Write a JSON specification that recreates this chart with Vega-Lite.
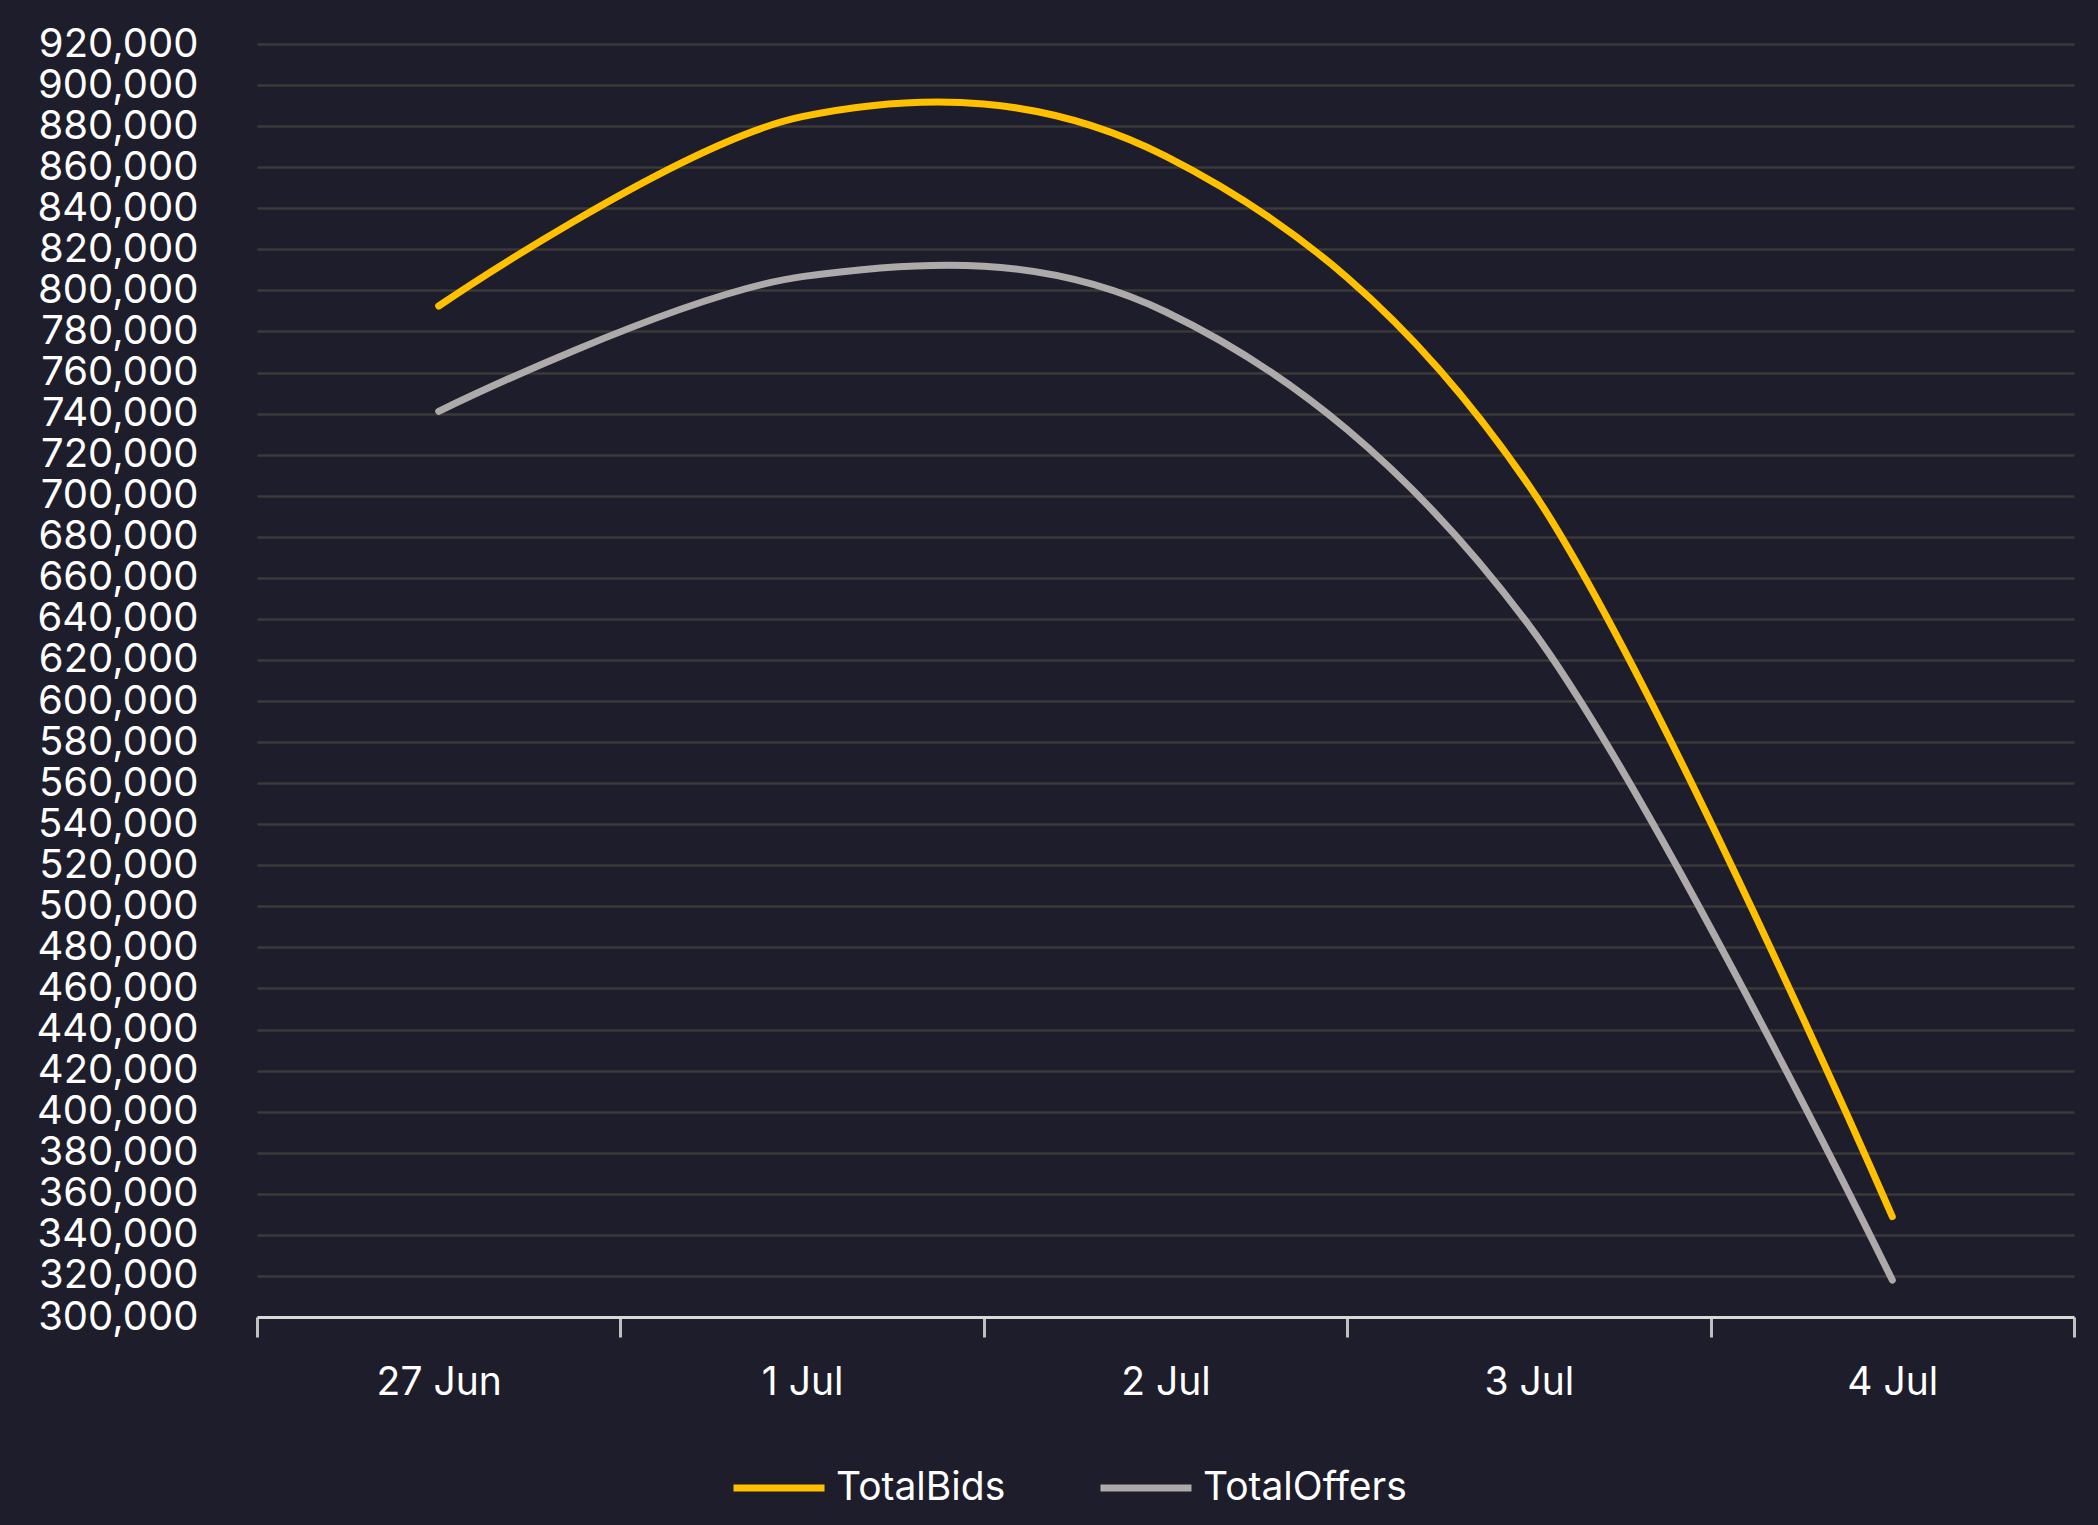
{
  "$schema": "https://vega.github.io/schema/vega-lite/v6.json",
  "width": 1817,
  "height": 1273,
  "autosize": {"type": "none"},
  "padding": {"left": 257, "top": 44, "right": 24, "bottom": 208},
  "background": "#1e1d2b",
  "config": {"view": {"stroke": null}, "font": "Inter"},
  "data": {
    "values": [
      {"date": "27 Jun", "series": "TotalBids", "value": 792400},
      {"date": "1 Jul", "series": "TotalBids", "value": 884600},
      {"date": "2 Jul", "series": "TotalBids", "value": 865400},
      {"date": "3 Jul", "series": "TotalBids", "value": 705000},
      {"date": "4 Jul", "series": "TotalBids", "value": 348900},
      {"date": "27 Jun", "series": "TotalOffers", "value": 741100},
      {"date": "1 Jul", "series": "TotalOffers", "value": 806700},
      {"date": "2 Jul", "series": "TotalOffers", "value": 789600},
      {"date": "3 Jul", "series": "TotalOffers", "value": 637000},
      {"date": "4 Jul", "series": "TotalOffers", "value": 318000}
    ]
  },
  "mark": {"type": "line", "interpolate": "cardinal", "strokeWidth": 7, "strokeCap": "round"},
  "encoding": {
    "x": {
      "field": "date",
      "type": "ordinal",
      "sort": ["27 Jun", "1 Jul", "2 Jul", "3 Jul", "4 Jul"],
      "scale": {"type": "band", "paddingInner": 0, "paddingOuter": 0},
      "bandPosition": 0.5,
      "axis": {
        "title": null,
        "labelAngle": 0,
        "tickBand": "extent",
        "grid": false,
        "domainColor": "#d9d9d9",
        "domainWidth": 3,
        "tickColor": "#bfbfbf",
        "tickWidth": 3,
        "tickSize": 20,
        "labelPadding": 26,
        "labelFontSize": 39,
        "labelColor": "#ffffff",
        "labelOverlap": false,
        "zindex": 1
      }
    },
    "y": {
      "field": "value",
      "type": "quantitative",
      "scale": {"domain": [300000, 920000], "nice": false, "zero": false},
      "axis": {
        "title": null,
        "values": [300000, 320000, 340000, 360000, 380000, 400000, 420000, 440000, 460000, 480000, 500000, 520000, 540000, 560000, 580000, 600000, 620000, 640000, 660000, 680000, 700000, 720000, 740000, 760000, 780000, 800000, 820000, 840000, 860000, 880000, 900000, 920000],
        "format": ",.0f",
        "domain": false,
        "ticks": false,
        "labelPadding": 59,
        "labelFontSize": 40,
        "labelColor": "#ffffff",
        "labelOverlap": false,
        "labelLimit": 300,
        "gridColor": "#3a3a3a",
        "gridWidth": 2.5
      }
    },
    "color": {
      "field": "series",
      "type": "nominal",
      "scale": {"domain": ["TotalBids", "TotalOffers"], "range": ["#ffc000", "#aeaaaa"]},
      "legend": {
        "title": null,
        "orient": "none",
        "direction": "horizontal",
        "legendX": 473,
        "legendY": 1395,
        "padding": 0,
        "symbolType": "stroke",
        "symbolSize": 8281,
        "symbolStrokeWidth": 7,
        "labelFontSize": 39,
        "labelColor": "#ffffff",
        "labelLimit": 400,
        "labelOffset": 8,
        "columnPadding": 80
      }
    }
  }
}
